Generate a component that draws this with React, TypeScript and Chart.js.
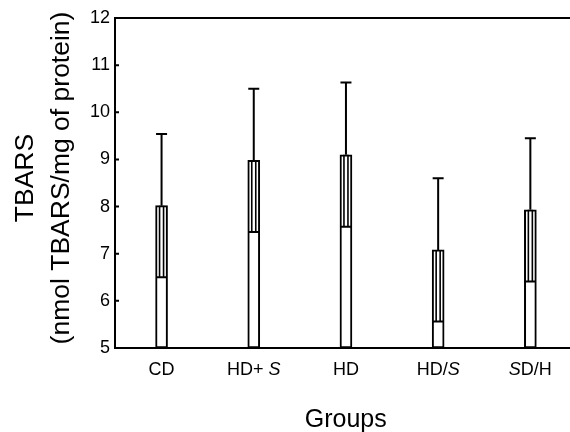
import React, { useEffect, useRef } from "react";
import { Chart, registerables } from "chart.js";

Chart.register(...registerables);

// Data
const groups: string[] = ["CD", "HD+ S", "HD", "HD/S", "SD/H"];
// label segments: [text, italic]
const groupLabelParts: [string, boolean][][] = [
  [["CD", false]],
  [["HD+ ", false], ["S", true]],
  [["HD", false]],
  [["HD/", false], ["S", true]],
  [["S", true], ["D/H", false]],
];
const means: number[] = [8.02, 8.98, 9.1, 7.08, 7.93];
const sds: number[] = [1.52, 1.52, 1.53, 1.52, 1.52];
const yTicks: number[] = [5, 6, 7, 8, 9, 10, 11, 12];
const yTitleLines: string[] = ["TBARS", "(nmol TBARS/mg of protein)"];
const xTitle = "Groups";

const FONT = "'Liberation Sans', Arial, sans-serif";

export default function App() {
  const ref = useRef<HTMLCanvasElement | null>(null);

  useEffect(() => {
    if (!ref.current) return;
    const decor = {
      id: "decor",
      afterDatasetsDraw(chart: any) {
        const ctx = chart.ctx;
        const ys = chart.scales.y;
        const xs = chart.scales.x;
        const area = chart.chartArea;
        ctx.save();
        ctx.strokeStyle = "#000";
        const meta = chart.getDatasetMeta(0);
        meta.data.forEach((el: any, i: number) => {
          const x = el.x;
          const hw = 5.5;
          const yTop = ys.getPixelForValue(means[i] + sds[i]);
          const yMean = ys.getPixelForValue(means[i]);
          const yLow = ys.getPixelForValue(means[i] - sds[i]);
          ctx.lineWidth = 2;
          ctx.beginPath();
          // lower bound line across bar
          ctx.moveTo(x - hw, yLow);
          ctx.lineTo(x + hw, yLow);
          // whisker
          ctx.moveTo(x, yMean);
          ctx.lineTo(x, yTop);
          // cap
          ctx.moveTo(x - hw, yTop);
          ctx.lineTo(x + hw, yTop);
          ctx.stroke();
          // inner rectangle
          ctx.lineWidth = 1.6;
          ctx.beginPath();
          ctx.moveTo(x - 2, yLow);
          ctx.lineTo(x - 2, yMean);
          ctx.moveTo(x + 2, yLow);
          ctx.lineTo(x + 2, yMean);
          ctx.stroke();
        });
        ctx.lineWidth = 2;
        // top frame line
        ctx.beginPath();
        ctx.moveTo(area.left, area.top);
        ctx.lineTo(chart.width, area.top);
        ctx.stroke();
        // inward y ticks
        ctx.beginPath();
        yTicks.forEach((v) => {
          const y = ys.getPixelForValue(v);
          ctx.moveTo(area.left, y);
          ctx.lineTo(area.left + 4, y);
        });
        ctx.stroke();

        // x labels
        ctx.fillStyle = "#000";
        ctx.textBaseline = "alphabetic";
        ctx.textAlign = "left";
        groupLabelParts.forEach((parts, i) => {
          const cx = xs.getPixelForValue(i);
          let total = 0;
          const widths = parts.map(([t, it]) => {
            ctx.font = `${it ? "italic " : ""}18px ${FONT}`;
            const w = ctx.measureText(t).width;
            total += w;
            return w;
          });
          let x = cx - total / 2;
          parts.forEach(([t, it], k) => {
            ctx.font = `${it ? "italic " : ""}18px ${FONT}`;
            ctx.fillText(t, x, 375);
            x += widths[k];
          });
        });

        // x title
        ctx.font = `25px ${FONT}`;
        ctx.textAlign = "center";
        ctx.fillText(xTitle, (area.left + xs.getPixelForValue(4.5)) / 2, 427);

        // y title
        ctx.font = `26.5px ${FONT}`;
        const lineX = [33, 69];
        yTitleLines.forEach((t, k) => {
          ctx.save();
          ctx.translate(lineX[k], 178);
          ctx.rotate(-Math.PI / 2);
          ctx.textAlign = "center";
          ctx.fillText(t, 0, 0);
          ctx.restore();
        });
        ctx.restore();
      },
    };

    const chart = new Chart(ref.current, {
      type: "bar",
      data: {
        labels: groups,
        datasets: [
          {
            data: means.map((m, i) => ({ x: i, y: [5, m] as any })),
            backgroundColor: "#fff",
            borderColor: "#000",
            borderWidth: 2,
            borderSkipped: false,
            barThickness: 12,
          } as any,
        ],
      },
      options: {
        animation: false,
        responsive: false,
        devicePixelRatio: 1,
        plugins: { legend: { display: false }, tooltip: { enabled: false } },
        layout: { padding: { top: 18, bottom: 84, left: 0, right: 0 } },
        scales: {
          x: {
            type: "linear",
            offset: false,
            min: -0.505,
            max: 4.43,
            ticks: { display: false },
            grid: { display: false, drawTicks: false },
            border: { display: true, color: "#000", width: 2 },
            afterFit: (s: any) => {
              s.height = 0;
            },
          },
          y: {
            min: 5,
            max: 12,
            ticks: {
              stepSize: 1,
              color: "#000",
              padding: 5,
              font: { family: FONT, size: 18 },
            },
            grid: { display: false, drawTicks: false },
            border: { display: true, color: "#000", width: 2 },
            afterFit: (s: any) => {
              s.width = 115;
            },
          },
        },
      } as any,
      plugins: [decor],
    });
    return () => chart.destroy();
  }, []);

  return (
    <div style={{ position: "absolute", left: 0, top: 0, width: 570, height: 432, background: "#fff" }}>
      <canvas ref={ref} width={570} height={432} />
    </div>
  );
}
